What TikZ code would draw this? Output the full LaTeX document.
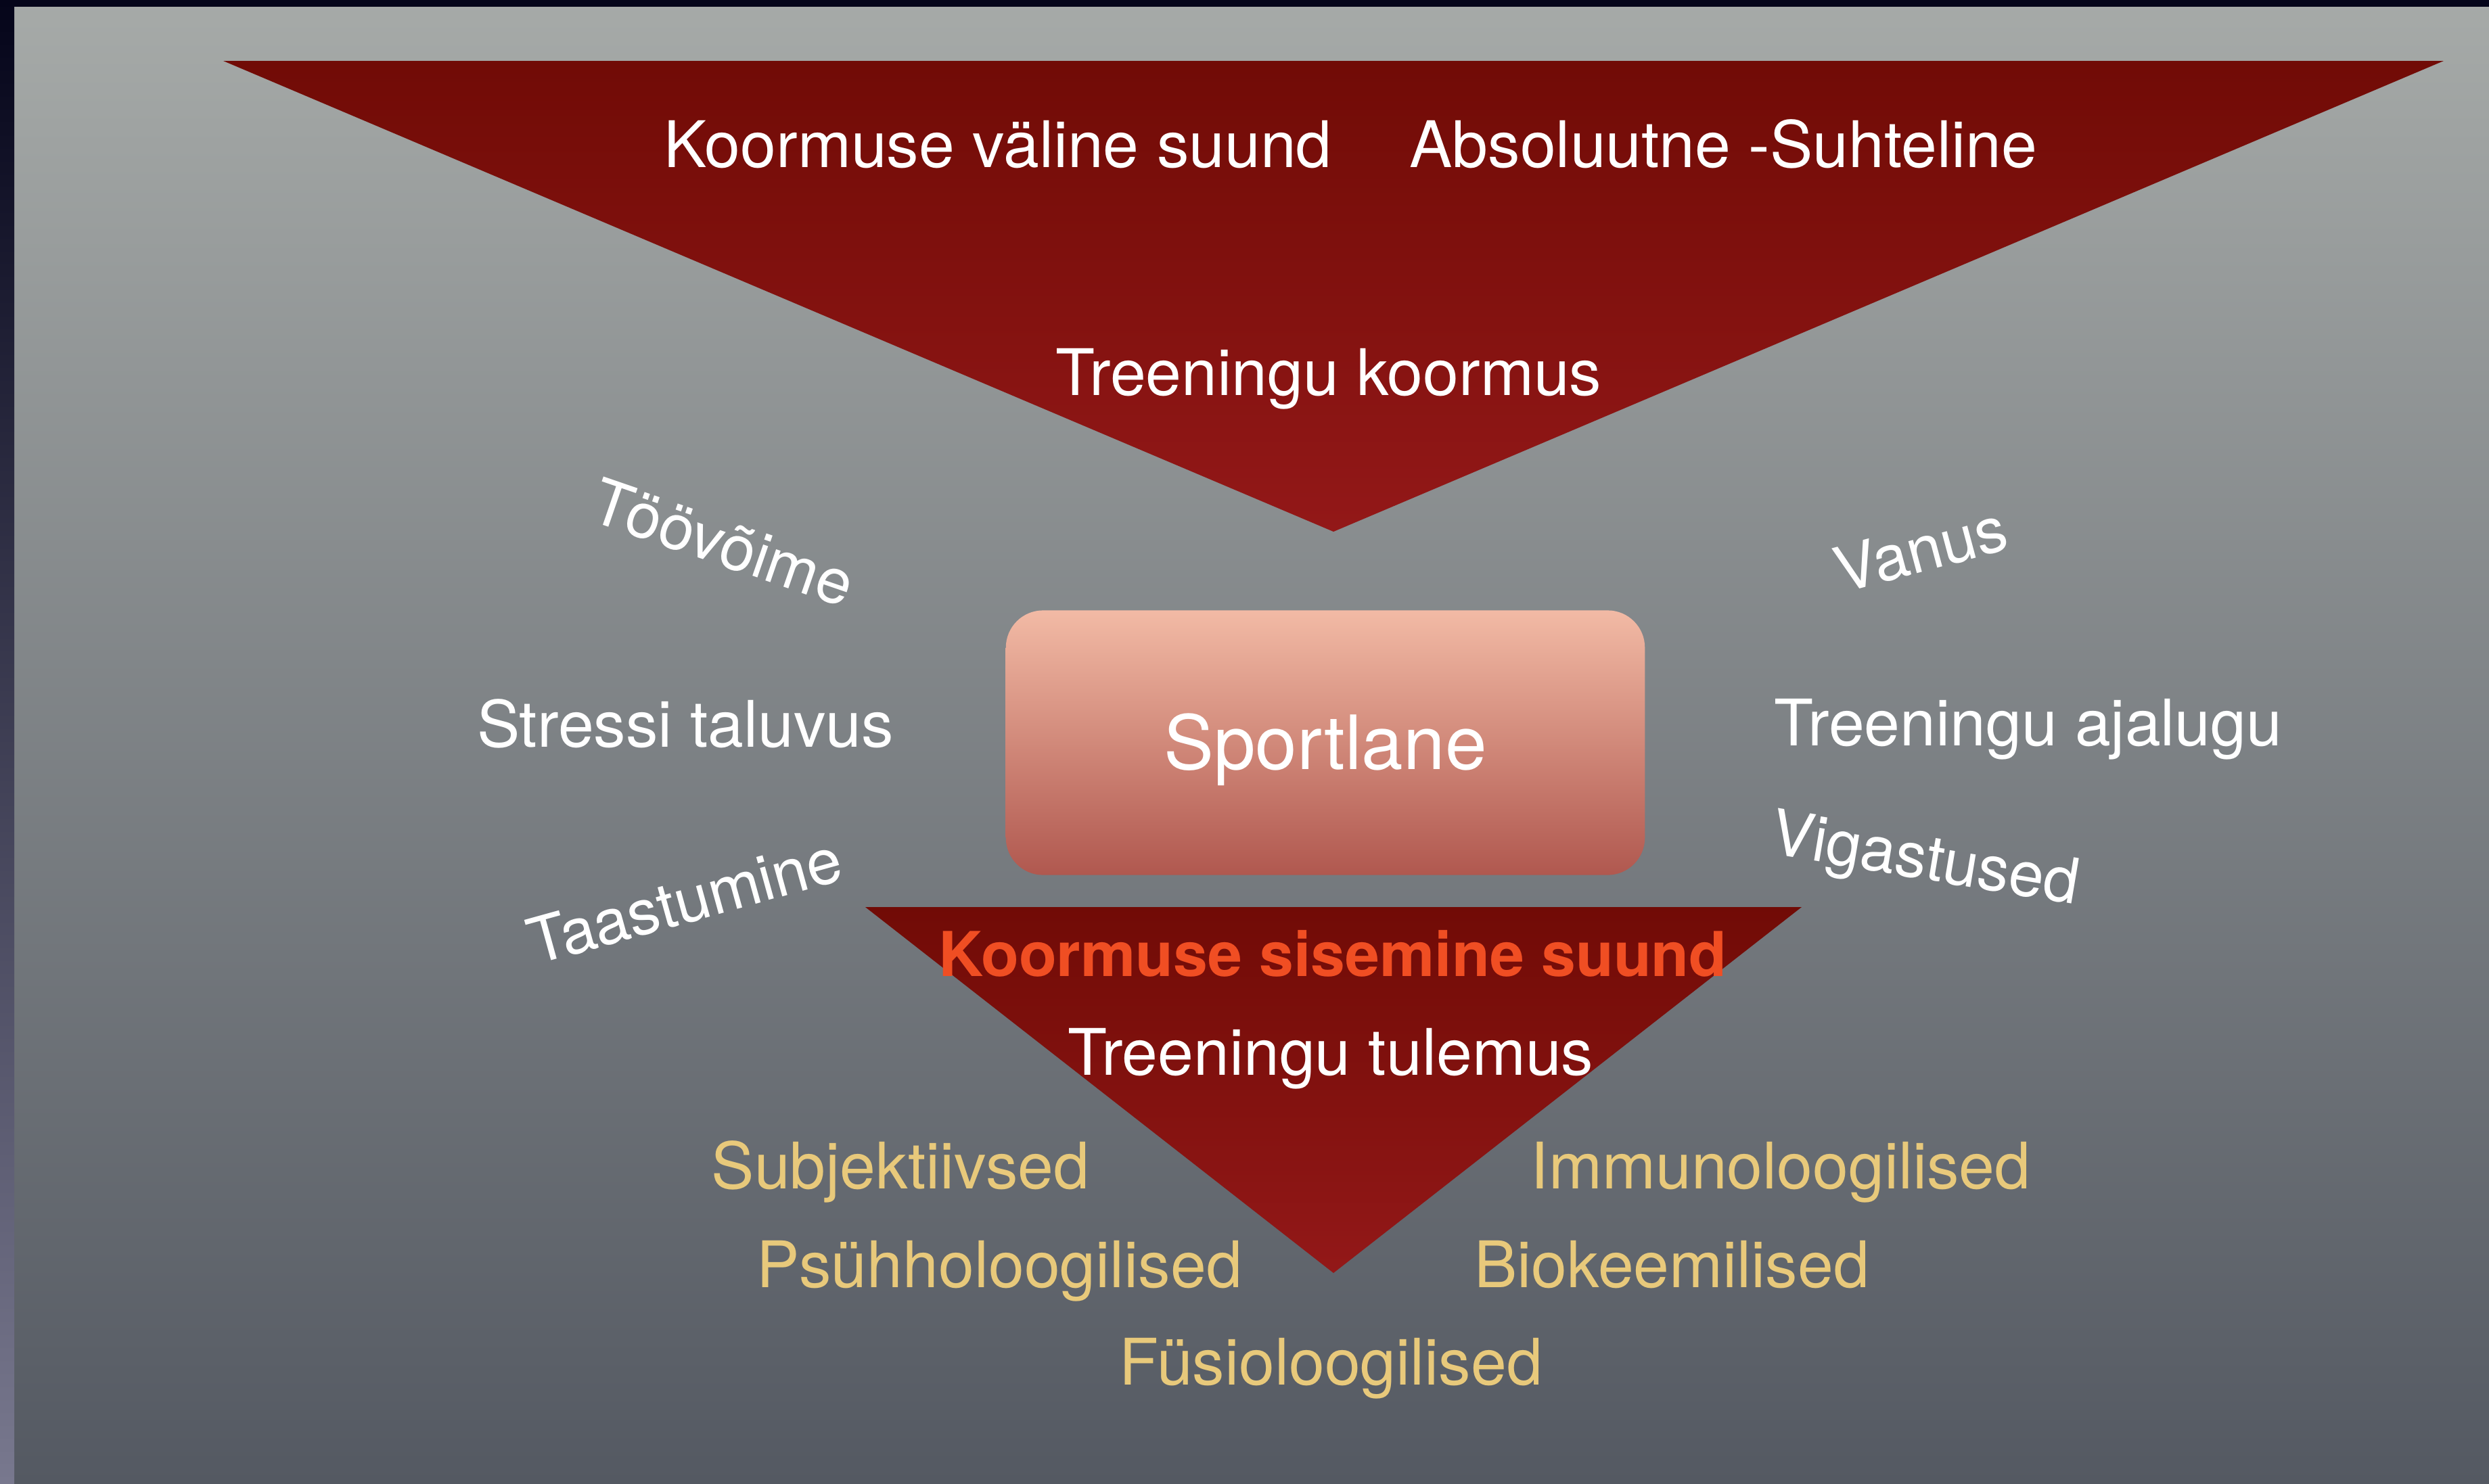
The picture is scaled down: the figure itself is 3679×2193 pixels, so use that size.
\documentclass[tikz,border=0pt]{standalone}
\usepackage{fontspec}
\setmainfont{TeX Gyre Heros}
\definecolor{bgtop}{HTML}{A6AAA8}
\definecolor{bgbot}{HTML}{545962}
\definecolor{edgetop}{HTML}{05051A}
\definecolor{edgemid}{HTML}{33335A}
\definecolor{edgebot}{HTML}{78788E}
\definecolor{funtop}{HTML}{710B06}
\definecolor{funbot}{HTML}{931818}
\definecolor{boxtop}{HTML}{F2BAA5}
\definecolor{boxbot}{HTML}{B0584F}
\definecolor{inred}{HTML}{F04E23}
\definecolor{goldtxt}{HTML}{E8C97B}
\begin{document}
\begin{tikzpicture}[x=0.01cm, y=-0.01cm,
  lbl/.style={text=white, inner sep=0pt, font=\fontsize{27}{32}\selectfont},
  tilt/.style={lbl, font=\fontsize{26.5}{31}\selectfont},
  gold/.style={lbl, text=goldtxt},
  funnel/.style={top color=funtop, bottom color=funbot}]
 \useasboundingbox (0,0) rectangle (3679,2193);
 % background
 \shade[top color=bgtop, bottom color=bgbot] (0,0) rectangle (3679,2193);
 \shade[top color=edgetop, middle color=edgemid, bottom color=edgebot] (0,0) rectangle (21,2193);
 \fill[edgetop] (0,0) rectangle (3679,10);
 % funnels
 \shade[funnel] (330,90) -- (3612,90) -- (1971,786) -- cycle;
 \shade[funnel] (1279,1341) -- (2663,1341) -- (1971,1882) -- cycle;
 % athlete
 \node[shade, top color=boxtop, bottom color=boxbot, rounded corners=0.55cm,
       minimum width=9.44cm, minimum height=3.91cm, inner sep=0pt,
       text=white, font=\fontsize{31.5}{36}\selectfont,
       text height=22.6pt, text depth=0pt] (sportlane) at (1959,1098) {Sportlane};
 % outer load
 \node[lbl, anchor=base] (vsuund) at (1475,247) {Koormuse väline suund};
 \node[lbl, anchor=base] (abssuht) at (2547,247) {Absoluutne -Suhteline};
 \node[lbl, anchor=base] (koormus) at (1964,584) {Treeningu koormus};
 % factors
 \node[tilt, rotate=-19] (toovoime) at (1069,802) {Töövõime};
 \node[lbl, anchor=base] (stress) at (1013,1104) {Stressi taluvus};
 \node[tilt, rotate=15.5] (taastum) at (1012,1331) {Taastumine};
 \node[tilt, rotate=15] (vanus) at (2839,812) {Vanus};
 \node[lbl, anchor=base] (ajalugu) at (2998,1102) {Treeningu ajalugu};
 \node[tilt, rotate=-9.5] (vigast) at (2845,1276) {Vigastused};
 % inner load
 \node[lbl, anchor=base, text=inred, font=\fontsize{26}{31}\selectfont\bfseries] (ssuund) at (1970,1443) {Koormuse sisemine suund};
 \node[lbl, anchor=base] (tulemus) at (1967,1589) {Treeningu tulemus};
 \node[gold, anchor=base] (subj) at (1331,1757) {Subjektiivsed};
 \node[gold, anchor=base] (immuno) at (2632,1757) {Immunoloogilised};
 \node[gold, anchor=base] (psyh) at (1477,1903) {Psühholoogilised};
 \node[gold, anchor=base] (biok) at (2471,1903) {Biokeemilised};
 \node[gold, anchor=base] (fysio) at (1967,2047) {Füsioloogilised};
\end{tikzpicture}
\end{document}
